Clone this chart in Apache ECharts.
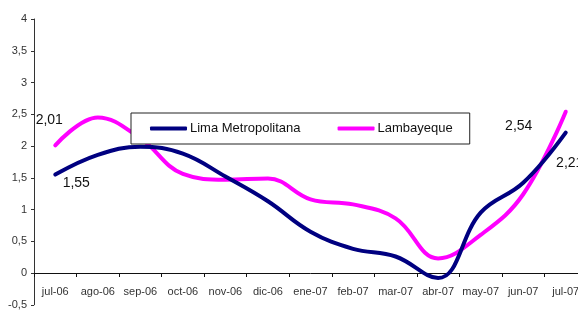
<!DOCTYPE html>
<html><head><meta charset="utf-8">
<script src="https://cdn.jsdelivr.net/npm/echarts@6/dist/echarts.min.js"></script>
<style>html,body{margin:0;padding:0;background:#fff;overflow:hidden;width:578px;height:311px}#c{width:587px;height:311px}</style>
</head><body><div id="c"></div>
<script>
const categories = ['jul-06','ago-06','sep-06','oct-06','nov-06','dic-06','ene-07','feb-07','mar-07','abr-07','may-07','jun-07','jul-07'];
const limaValues = [1.55, 1.86, 1.99, 1.88, 1.52, 1.13, 0.65, 0.38, 0.26, -0.08, 0.95, 1.42, 2.21];
const lambayequeValues = [2.01, 2.45, 2.12, 1.56, 1.47, 1.49, 1.16, 1.08, 0.86, 0.23, 0.6, 1.24, 2.54];
const yTicks = [-0.5, 0, 0.5, 1, 1.5, 2, 2.5, 3, 3.5, 4];
const seriesNames = ['Lima Metropolitana', 'Lambayeque'];
const seriesColors = ['#000080', '#FF00FF'];

const FONT = '"Liberation Sans Narrow", "Arial Narrow", "Liberation Sans", Arial, sans-serif';
const fmt = v => String(v).replace('.', ',');

function withLabels(values, labelOffsets) {
  return values.map((v, i) => {
    if (labelOffsets[i]) {
      return { value: v, label: { show: true, position: 'inside', offset: labelOffsets[i],
        formatter: p => fmt(p.value), fontFamily: FONT, fontSize: 14, color: '#111' } };
    }
    return v;
  });
}
const limaLabelOffsets = { 0: [21, 9], 12: [4, 30] };
const lambLabelOffsets = { 0: [-6, -25], 12: [-47, 14] };

const chart = echarts.init(document.getElementById('c'), null, { renderer: 'canvas' });
chart.setOption({
  animation: false,
  backgroundColor: '#fff',
  grid: { left: 34, right: 0, top: 19, bottom: 6.25, containLabel: false, outerBoundsMode: 'none' },
  legend: {
    data: seriesNames.map((n, i) => ({ name: n, itemStyle: { color: seriesColors[i], opacity: 1 } })),
    left: 131, top: 113,
    orient: 'horizontal',
    backgroundColor: '#fff',
    borderColor: '#222', borderWidth: 1,
    padding: [9, 17, 9, 19],
    itemGap: 37,
    itemWidth: 37, itemHeight: 4,
    icon: 'roundRect',
    textStyle: { fontFamily: FONT, fontSize: 13, color: '#111', padding: [0, 0, 0, -2] }
  },
  xAxis: {
    type: 'category',
    data: categories,
    boundaryGap: true,
    axisLine: { onZero: true, lineStyle: { color: '#111', width: 1 } },
    axisTick: { show: true, length: 4, interval: 0, lineStyle: { color: '#111' } },
    axisLabel: { fontFamily: FONT, fontSize: 11, color: '#333', margin: -18, interval: 0, hideOverlap: false }
  },
  yAxis: {
    type: 'value',
    min: -0.5, max: 4, interval: 0.5,
    splitLine: { show: false },
    axisLine: { show: true, onZero: false, lineStyle: { color: '#333', width: 1 } },
    axisTick: { show: true, length: 3, lineStyle: { color: '#333' } },
    axisLabel: { fontFamily: FONT, fontSize: 11, color: '#333', margin: 7,
      formatter: v => fmt(v) }
  },
  series: [0, 1].map(k => ({
    name: seriesNames[k], type: 'line', smooth: 0.4,
    data: withLabels(k === 0 ? limaValues : lambayequeValues, k === 0 ? limaLabelOffsets : lambLabelOffsets),
    showSymbol: true, symbol: 'circle', symbolSize: 1,
    itemStyle: { color: 'rgba(0,0,0,0)' },
    lineStyle: { color: seriesColors[k], width: 4, cap: 'round' },
    label: { show: false },
    z: k === 0 ? 3 : 2
  }))
});
</script></body></html>
